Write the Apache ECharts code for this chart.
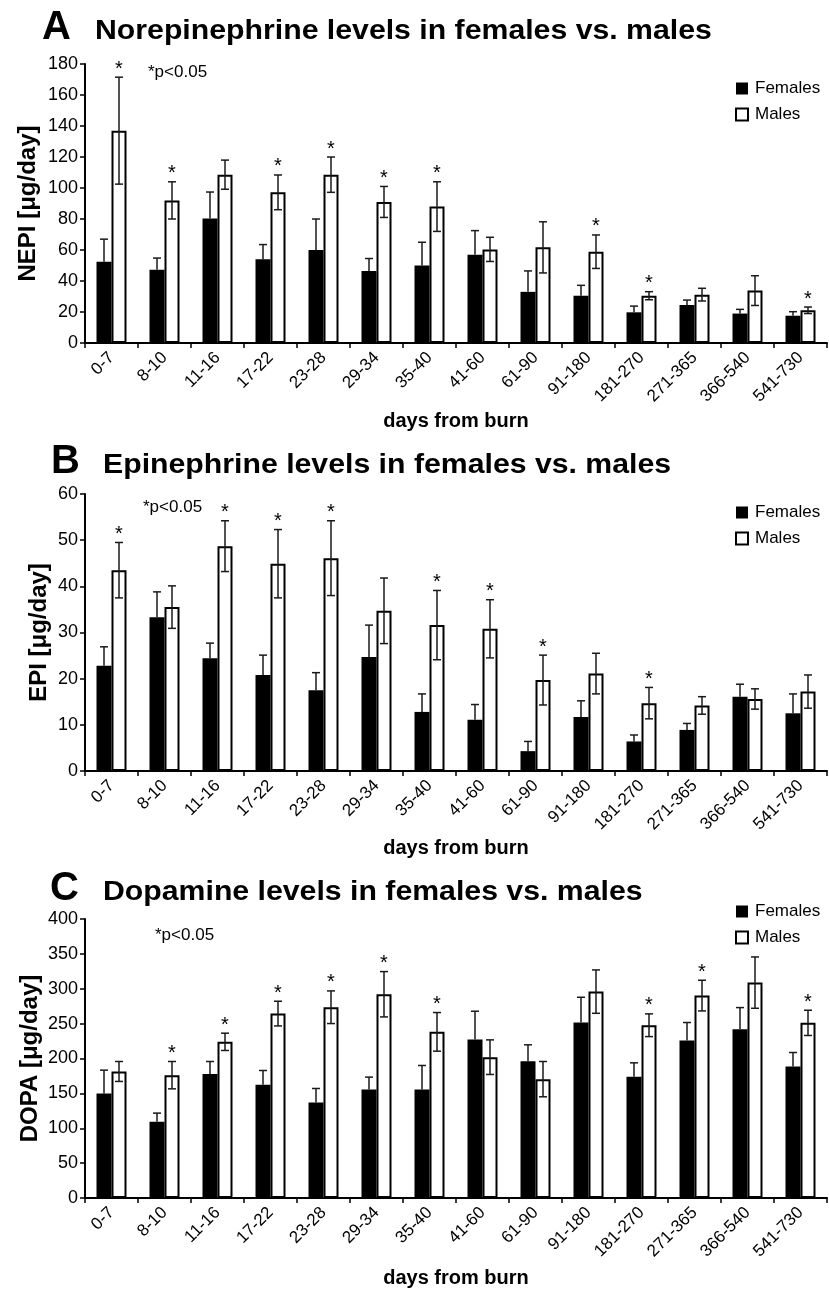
<!DOCTYPE html>
<html>
<head>
<meta charset="utf-8">
<script src="https://cdn.jsdelivr.net/npm/echarts@6/dist/echarts.min.js"></script>
<style>
html,body{margin:0;padding:0;background:#fff;}
#chart{width:829px;height:1290px;}
</style>
</head>
<body>
<div id="chart"></div>
<script>
// ---------- data ----------
const categories = ['0-7','8-10','11-16','17-22','23-28','29-34','35-40','41-60','61-90','91-180','181-270','271-365','366-540','541-730'];

// A: Norepinephrine
const nepiFemales    = [52.5, 47.3, 80.4, 54, 60, 46.5, 50, 57, 33, 30.5, 19.8, 24.5, 19, 17.6];
const nepiFemalesErr = [14.5, 7.5, 17, 9.5, 20, 8, 15, 15.5, 13.5, 6.7, 4, 3.2, 2.7, 2.6];
const nepiMales      = [137, 92, 108.6, 97.2, 108.6, 91, 88, 60.4, 61.7, 58.9, 30.5, 31.2, 33.8, 21.1];
const nepiMalesErr   = [34.5, 12, 9.4, 11.2, 11.4, 10, 16, 7.8, 16.5, 10.8, 2.6, 4.1, 9.6, 2.1];
const nepiSig        = [1,1,0,1,1,1,1,0,0,1,1,0,0,1];
const nepiTicks      = {min: 0, max: 180, interval: 20};

// B: Epinephrine
const epiFemales    = [22.8, 33.3, 24.4, 20.8, 17.5, 24.7, 12.8, 11.1, 4.3, 11.7, 6.4, 8.9, 16.1, 12.5];
const epiFemalesErr = [4.1, 5.5, 3.3, 4.3, 3.8, 6.9, 3.9, 3.3, 2.1, 3.5, 1.4, 1.4, 2.7, 4.2];
const epiMales      = [43.5, 35.5, 48.7, 44.9, 46.1, 34.7, 31.6, 30.8, 19.7, 21.1, 14.7, 14.2, 15.6, 17.2];
const epiMalesErr   = [6, 4.6, 5.5, 7.4, 8.1, 7.1, 7.5, 6.3, 5.4, 4.4, 3.4, 1.9, 2.2, 3.6];
const epiSig        = [1,0,1,1,1,0,1,1,1,0,1,0,0,0];
const epiTicks      = {min: 0, max: 60, interval: 10};

// C: Dopamine
const dopaFemales    = [150, 109.3, 177.6, 162.3, 137, 155.6, 155.6, 227.2, 196.2, 251.6, 173.7, 225.8, 242, 188.5];
const dopaFemalesErr = [33.3, 12.4, 18.1, 20.5, 20, 17.7, 34.4, 40.6, 23.4, 36.2, 20.1, 25.8, 31, 20.1];
const dopaMales      = [181.4, 176.1, 223.9, 264.4, 273.5, 292.1, 238.2, 201.9, 170.4, 295.9, 247.7, 290.2, 308.8, 251.1];
const dopaMalesErr   = [14.3, 19.6, 12.4, 17.7, 23.4, 32.5, 27.7, 24.8, 25.3, 31.1, 16.3, 22, 36.8, 18.1];
const dopaSig        = [0,1,1,1,1,1,1,0,0,0,1,1,0,1];
const dopaTicks      = {min: 0, max: 400, interval: 50};

const panelLetters = ['A','B','C'];
const panelTitles = ['Norepinephrine levels in females vs. males','Epinephrine levels in females vs. males','Dopamine levels in females vs. males'];
const yNames = ['NEPI [\u03bcg/day]','EPI [\u03bcg/day]','DOPA [\u03bcg/day]'];
const xName = 'days from burn';
const sigNote = '*p<0.05';

// ---------- layout ----------
const FONT = '"Liberation Sans", Arial, Helvetica, sans-serif';
const panels = [
  {F: nepiFemales, FE: nepiFemalesErr, M: nepiMales, ME: nepiMalesErr, S: nepiSig, T: nepiTicks,
   top: 64, height: 279, yNameGap: 45, xNameGap: 68, legendTop: 75,
   letter: {x: 42, y: 28}, title: {x: 95, y: 32}, note: {x: 148, y: 72}},
  {F: epiFemales, FE: epiFemalesErr, M: epiMales, ME: epiMalesErr, S: epiSig, T: epiTicks,
   top: 494, height: 277, yNameGap: 34, xNameGap: 67, legendTop: 499,
   letter: {x: 51, y: 462}, title: {x: 103, y: 466}, note: {x: 143, y: 507}},
  {F: dopaFemales, FE: dopaFemalesErr, M: dopaMales, ME: dopaMalesErr, S: dopaSig, T: dopaTicks,
   top: 919, height: 279, yNameGap: 43, xNameGap: 70, legendTop: 898,
   letter: {x: 50, y: 889}, title: {x: 103, y: 893}, note: {x: 155, y: 935}}
];

const BARW = 15;
const TITLE_STRETCH = 1.12;
const grid = [], xAxis = [], yAxis = [], series = [], legend = [], graphic = [];

panels.forEach((p, k) => {
  grid.push({left: 85, right: 2, top: p.top, height: p.height, containLabel: false});
  xAxis.push({
    type: 'category', gridIndex: k, data: categories,
    axisLine: {lineStyle: {color: '#000', width: 2}},
    axisTick: {show: true, length: 5, inside: false, lineStyle: {color: '#000', width: 1.5}},
    axisLabel: {rotate: 45, fontSize: 17, color: '#000', fontFamily: FONT, margin: 12, interval: 0},
    name: xName, nameLocation: 'middle', nameGap: p.xNameGap, nameMoveOverlap: false,
    nameTextStyle: {fontSize: 20, fontWeight: 'bold', color: '#000', fontFamily: FONT},
    splitLine: {show: false}
  });
  yAxis.push({
    type: 'value', gridIndex: k, min: p.T.min, max: p.T.max, interval: p.T.interval,
    axisLine: {show: true, lineStyle: {color: '#000', width: 2}},
    axisTick: {show: true, length: 5, inside: false, lineStyle: {color: '#000', width: 1.5}},
    axisLabel: {fontSize: 18, color: '#000', fontFamily: FONT, margin: 7},
    splitLine: {show: false},
    name: yNames[k], nameLocation: 'middle', nameGap: p.yNameGap, nameRotate: 90, nameMoveOverlap: false,
    nameTextStyle: {fontSize: 24, fontWeight: 'bold', color: '#000', fontFamily: FONT}
  });
  series.push({
    name: 'Females', type: 'bar', xAxisIndex: k, yAxisIndex: k, data: p.F,
    barWidth: BARW, barGap: '0%',
    itemStyle: {color: '#000', borderColor: '#000', borderWidth: 0}
  });
  series.push({
    name: 'Males', type: 'bar', xAxisIndex: k, yAxisIndex: k, data: p.M,
    barWidth: BARW, barGap: '0%',
    itemStyle: {color: '#fff', borderColor: '#000', borderWidth: 2}
  });
  // error bars + significance
  const errData = categories.map((c, i) => [i, p.F[i], p.FE[i], p.M[i], p.ME[i], p.S[i]]);
  series.push({
    type: 'custom', xAxisIndex: k, yAxisIndex: k, data: errData, z: 10, silent: true,
    renderItem: function (params, api) {
      const i = api.value(0);
      const f = api.value(1), fe = api.value(2), m = api.value(3), me = api.value(4), s = api.value(5);
      const half = BARW / 2, cap = 4;
      const stroke = {stroke: '#1a1a1a', lineWidth: 1.5};
      const children = [];
      // females: upper whisker only
      const fb = api.coord([i, f]), ft = api.coord([i, f + fe]);
      const fx = fb[0] - half;
      children.push({type: 'line', shape: {x1: fx, y1: fb[1], x2: fx, y2: ft[1]}, style: stroke});
      children.push({type: 'line', shape: {x1: fx - cap, y1: ft[1], x2: fx + cap, y2: ft[1]}, style: stroke});
      // males: full whisker
      const mt = api.coord([i, m + me]), ml = api.coord([i, m - me]);
      const mx = mt[0] + half;
      children.push({type: 'line', shape: {x1: mx, y1: ml[1], x2: mx, y2: mt[1]}, style: stroke});
      children.push({type: 'line', shape: {x1: mx - cap, y1: mt[1], x2: mx + cap, y2: mt[1]}, style: stroke});
      children.push({type: 'line', shape: {x1: mx - cap, y1: ml[1], x2: mx + cap, y2: ml[1]}, style: stroke});
      if (s) {
        children.push({type: 'text', style: {x: mx, y: mt[1] + 2, text: '*', fill: '#000',
          font: '20px ' + FONT, align: 'center', verticalAlign: 'bottom'}});
      }
      return {type: 'group', children: children};
    }
  });
  legend.push({
    data: ['Females', 'Males'], orient: 'vertical', left: 730, top: p.legendTop,
    itemWidth: 12, itemHeight: 12, itemGap: 9, icon: 'rect', selectedMode: false,
    textStyle: {fontSize: 17, color: '#000', fontFamily: FONT, padding: [0, 0, 0, 2]}
  });
  graphic.push({type: 'text', left: p.letter.x, top: p.letter.y - 20, silent: true,
    style: {text: panelLetters[k], font: 'bold 40px ' + FONT, fill: '#000'}});
  graphic.push({type: 'text', x: p.title.x, y: p.title.y, scaleX: TITLE_STRETCH, silent: true,
    style: {text: panelTitles[k], font: 'bold 27px ' + FONT, fill: '#000', verticalAlign: 'middle'}});
  graphic.push({type: 'text', x: p.note.x, y: p.note.y, silent: true,
    style: {text: sigNote, font: '17px ' + FONT, fill: '#000', verticalAlign: 'middle'}});
});

const chart = echarts.init(document.getElementById('chart'), null, {renderer: 'canvas'});
chart.setOption({
  backgroundColor: '#fff',
  animation: false,
  textStyle: {fontFamily: FONT},
  grid, xAxis, yAxis, series, legend, graphic
});
</script>
</body>
</html>
